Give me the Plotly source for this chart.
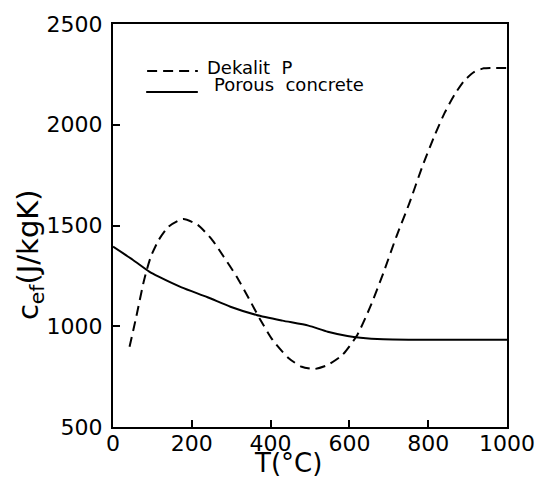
import plotly.graph_objects as go

# Porous concrete (solid)
t_concrete = [0, 50, 92, 116, 174, 240, 298, 364, 430, 496, 545, 595, 628, 686, 750, 850, 1000]
c_concrete = [1395, 1330, 1271, 1246, 1193, 1144, 1097, 1056, 1028, 1003, 973, 952, 943, 935, 933, 933, 933]

# Dekalit P (dashed)
t_dekalit = [42, 59, 79, 96, 116, 141, 178, 215, 252, 281, 314, 347, 372, 405, 446, 479, 512,
             545, 582, 620, 653, 686, 719, 752, 785, 818, 842, 867, 892, 917, 941, 960, 1000]
c_dekalit = [898, 1047, 1230, 1345, 1428, 1494, 1532, 1503, 1428, 1345, 1246, 1130, 1039, 932, 841, 799, 788,
             808, 857, 957, 1097, 1263, 1444, 1610, 1792, 1955, 2060, 2150, 2220, 2262, 2280, 2282, 2282]

x_ticks = [0, 200, 400, 600, 800, 1000]
y_ticks = [500, 1000, 1500, 2000, 2500]

FONT = "DejaVu Sans"

fig = go.Figure()
fig.add_trace(go.Scatter(x=t_dekalit, y=c_dekalit, mode="lines", name="Dekalit P",
                         line=dict(color="black", width=2, dash="10px,6px", shape="spline", smoothing=0.6)))
fig.add_trace(go.Scatter(x=t_concrete, y=c_concrete, mode="lines", name="Porous concrete",
                         line=dict(color="black", width=2, shape="spline", smoothing=0.6)))

axis_common = dict(showgrid=False, zeroline=False, showline=True, mirror=True,
                   linecolor="black", linewidth=2, ticks="inside", ticklen=7,
                   tickwidth=2, tickcolor="black",
                   tickfont=dict(family=FONT, size=22, color="black"))

fig.update_xaxes(range=[0, 1000], tickvals=x_ticks, ticktext=[str(v) for v in x_ticks],
                 ticklabelstandoff=-4, **axis_common)
fig.update_yaxes(range=[500, 2500], tickvals=y_ticks, ticktext=[str(v) for v in y_ticks],
                 ticklabelstandoff=4, **axis_common)

# Legend drawn as decorations
fig.add_shape(type="line", xref="paper", yref="paper", x0=0.0866, x1=0.2153, y0=0.8834, y1=0.8834,
              line=dict(color="black", width=2, dash="10px,6px"))
fig.add_shape(type="line", xref="paper", yref="paper", x0=0.0842, x1=0.2153, y0=0.8313, y1=0.8313,
              line=dict(color="black", width=2))
fig.add_annotation(text="Dekalit  P", xref="paper", yref="paper", x=0.2327, y=0.8933,
                   xanchor="left", yanchor="middle", showarrow=False,
                   font=dict(family=FONT, size=18, color="black"))
fig.add_annotation(text="Porous  concrete", xref="paper", yref="paper", x=0.2525, y=0.8511,
                   xanchor="left", yanchor="middle", showarrow=False,
                   font=dict(family=FONT, size=18, color="black"))

# Axis titles
fig.add_annotation(text="T(°C)", xref="paper", yref="paper", x=0.443, y=-0.09,
                   xanchor="center", yanchor="middle", showarrow=False,
                   font=dict(family=FONT, size=26, color="black"))
fig.add_annotation(text="c<sub>ef</sub>(J/kgK)", xref="paper", yref="paper", x=-0.2104, y=0.4268,
                   xanchor="center", yanchor="middle", showarrow=False, textangle=-90,
                   font=dict(family=FONT, size=29, color="black"))

fig.update_layout(width=547, height=480, margin=dict(l=113, r=30, t=24, b=53),
                  plot_bgcolor="white", paper_bgcolor="white", showlegend=False)

fig.write_html("out.html")
